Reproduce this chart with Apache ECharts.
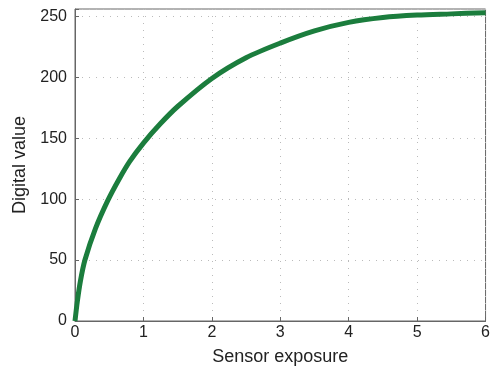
<!DOCTYPE html>
<html>
<head>
<meta charset="utf-8">
<script src="https://cdn.jsdelivr.net/npm/echarts@6/dist/echarts.min.js"></script>
<style>html,body{margin:0;padding:0;background:#fff}#c{width:493px;height:375px}</style>
</head>
<body>
<div id="c"></div>
<script>
const exposure = [0, 0.034, 0.08, 0.145, 0.3, 0.48, 0.65, 0.8, 1.0, 1.25, 1.5, 2.0, 2.5, 3.0, 3.5, 4.0, 4.5, 5.0, 5.5, 6.0];
const digitalValue = [0, 16, 33, 50, 76, 99, 117, 131, 146, 162, 176, 199, 216, 228, 238, 245, 249, 251, 252, 253];
const xTicks = [0, 1, 2, 3, 4, 5, 6];
const yTicks = [0, 50, 100, 150, 200, 250];

const chart = echarts.init(document.getElementById('c'));
const font = 'Liberation Sans, Arial, Helvetica, sans-serif';
chart.setOption({
  animation: false,
  grid: {left: 75, right: 4, top: 9, bottom: 54, show: true, borderColor: '#666', borderWidth: 1},
  xAxis: {
    type: 'value', min: 0, max: 6, interval: 1,
    name: 'Sensor exposure', nameLocation: 'middle', nameGap: 27,
    nameTextStyle: {fontFamily: font, fontSize: 18, color: '#222'},
    axisLine: {show: true, lineStyle: {color: '#666'}},
    axisTick: {show: true, inside: true, length: 4, lineStyle: {color: '#666'}},
    axisLabel: {fontFamily: font, fontSize: 16, color: '#222', margin: 4,
      formatter: v => xTicks.includes(v) ? String(v) : ''},
    splitLine: {show: true, lineStyle: {color: '#bbb', type: [1, 6], width: 1}}
  },
  yAxis: {
    type: 'value', min: 0, max: 256, interval: 50,
    name: 'Digital value', nameLocation: 'middle', nameGap: 42, nameRotate: 90,
    nameTextStyle: {fontFamily: font, fontSize: 18, color: '#222'},
    axisLine: {show: true, lineStyle: {color: '#666'}},
    axisTick: {show: true, inside: true, length: 4, lineStyle: {color: '#666'}},
    axisLabel: {fontFamily: font, fontSize: 16, color: '#222', margin: 8,
      formatter: v => yTicks.includes(v) ? String(v) : ''},
    splitLine: {show: true, lineStyle: {color: '#bbb', type: [1, 6], width: 1}}
  },
  series: [{
    type: 'line', smooth: 0.3, symbol: 'none',
    data: exposure.map((x, i) => [x, digitalValue[i]]),
    lineStyle: {color: '#1b7d3d', width: 5}
  }]
});
</script>
</body>
</html>
